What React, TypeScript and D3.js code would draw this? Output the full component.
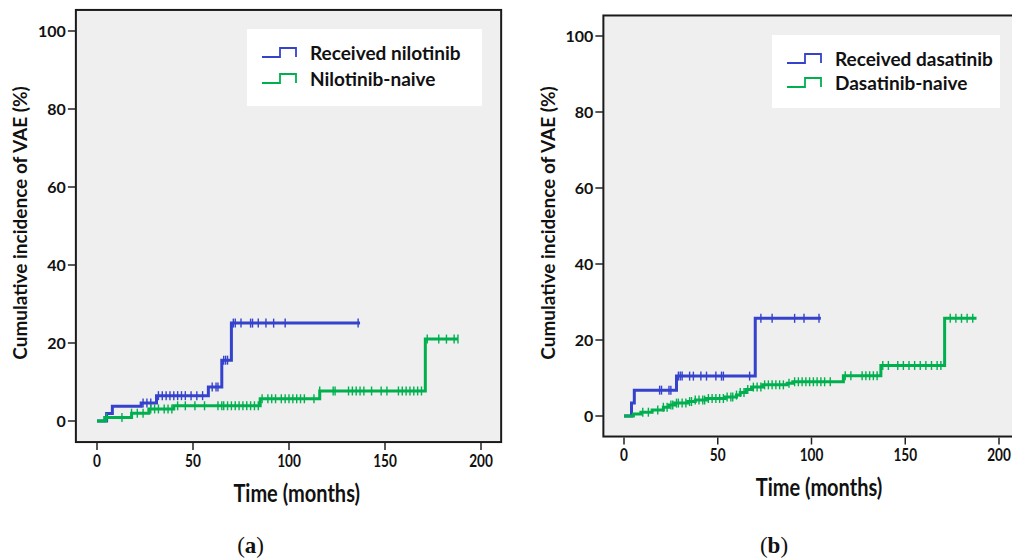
import React from 'react';
import * as d3 from 'd3';

// step points [time in months, cumulative incidence %]
const nilotinibSteps: [number, number][] = [
  [0, 0], [5, 1.9], [8, 3.8], [23, 4.6], [31, 6.5], [58, 8.7], [65, 15.6], [70, 25.1], [137, 25.1],
];
const nilotinibNaiveSteps: [number, number][] = [
  [0, 0], [4, 0.9], [18, 2.0], [27, 3.1], [40, 3.9], [85, 5.7], [116, 7.7], [171, 21.0], [188, 21.0],
];
const dasatinibSteps: [number, number][] = [
  [0, 0], [4, 3.4], [5.5, 6.8], [28, 10.5], [70, 25.7], [105, 25.7],
];
const dasatinibNaiveSteps: [number, number][] = [
  [0, 0], [5, 0.5], [9, 1.0], [15, 1.6], [21, 2.3], [24, 2.9], [27, 3.4], [34, 3.8], [38, 4.2],
  [44, 4.6], [54, 5.0], [60, 5.5], [62, 6.2], [65, 7.0], [68, 7.6], [74, 8.2], [87, 8.6],
  [90, 9.0], [117, 10.6], [137, 13.3], [171, 25.7], [188, 25.7],
];

// censored observations (months)
const nilotinibCensor = [24, 26, 28, 32, 34, 36, 38, 40, 42, 44, 46, 49, 52, 55, 60, 62, 63, 66, 67, 68, 71, 72, 75, 80, 81, 84, 88, 92, 98, 136];
const nilotinibNaiveCensor = [5, 13, 18, 21, 24, 28, 30, 32, 35, 37, 39, 42, 46, 51, 56, 63, 65, 66, 68, 70, 72, 74, 76, 78, 80, 82, 84, 86, 89,
  91, 93, 96, 98, 100, 102, 104, 106, 108, 113, 116, 123, 124, 131, 133, 135, 137, 139, 143, 148, 151, 157, 159, 161, 163, 165, 167, 169, 172, 178, 182, 186, 188];
const dasatinibCensor = [19, 20, 24, 25, 29, 30, 31, 35, 37, 41, 44, 49, 52, 53, 67, 73, 79, 91, 96, 104];
const dasatinibNaiveCensor = [10, 13, 18, 21, 23, 25, 26, 28, 29, 31, 33, 35, 36, 38, 40, 42, 43, 45, 47, 49, 51, 53, 55, 57, 58, 60, 62, 64, 66,
  69, 71, 73, 75, 77, 79, 81, 83, 85, 88, 91, 93, 95, 97, 99, 101, 103, 105, 107, 110, 118, 121, 127, 129, 131, 133, 135, 138, 141, 146, 149,
  152, 155, 158, 161, 164, 167, 169, 174, 177, 180, 183, 186];

const timeTicks = [0, 50, 100, 150, 200];
const pctTicks = [0, 20, 40, 60, 80, 100];

const BLUE = '#3442cc';
const GREEN = '#00b04f';
const sans = 'Lato, "Open Sans", sans-serif';

function valueAt(steps: [number, number][], t: number) {
  let v = 0;
  for (const [st, sv] of steps) if (st <= t) v = sv;
  return v;
}

type PanelProps = {
  x: d3.ScaleLinear<number, number>;
  y: d3.ScaleLinear<number, number>;
  series: { name: string; color: string; steps: [number, number][]; censor: number[] }[];
  legend: { x: number; y: number; w: number; h: number; rows: number[] };
  yLabelX: number;
  xTitleY: number;
  tag: string;
};

// condensed bold text, squeezed horizontally like the original's narrow font
function Narrow({ x, y, size, children }: { x: number; y: number; size: number; children: React.ReactNode }) {
  return (
    <text transform={`translate(${x},${y}) scale(0.8,1)`} dy="0.35em" textAnchor="middle" fontFamily={sans} fontWeight={700} fontSize={size} fill="#111">
      {children}
    </text>
  );
}

function Panel({ x, y, series, legend, yLabelX, xTitleY, tag }: PanelProps) {
  const left = x(-11);
  const right = x(210.5);
  const top = y(105.4);
  const bottom = y(-5.4);
  const line = d3.line<[number, number]>()
    .x(d => x(d[0]))
    .y(d => y(d[1]))
    .curve(d3.curveStepAfter);

  return (
    <g>
      <rect x={left} y={top} width={right - left} height={bottom - top} fill="#efefef" stroke="#1a1a1a" strokeWidth={2} />

      {/* legend */}
      <rect x={legend.x} y={legend.y} width={legend.w} height={legend.h} fill="#ffffff" />
      {series.map((s, i) => {
        const cy = legend.rows[i];
        const lx = legend.x + 15;
        return (
          <g key={s.name}>
            <path d={`M${lx},${cy + 4} H${lx + 18} V${cy - 5} H${lx + 34} V${cy + 4}`} fill="none" stroke={s.color} strokeWidth={1.8} />
            <text x={lx + 48} y={cy} dy="0.35em" fontFamily={sans} fontWeight={700} fontSize={19} fill="#111">{s.name}</text>
          </g>
        );
      })}

      {/* curves */}
      {series.map(s => (
        <g key={s.name + '-curve'}>
          <path d={line(s.steps) || ''} fill="none" stroke={s.color} strokeWidth={3} />
          {s.censor.map((t, j) => (
            <line key={j} x1={x(t)} x2={x(t)} y1={y(valueAt(s.steps, t)) - 4.5} y2={y(valueAt(s.steps, t)) + 4.5} stroke={s.color} strokeWidth={1.4} />
          ))}
        </g>
      ))}

      {/* y axis */}
      {pctTicks.map(p => (
        <g key={p}>
          <line x1={left - 8} x2={left} y1={y(p)} y2={y(p)} stroke="#222" strokeWidth={1.5} />
          <text x={left - 10} y={y(p)} dy="0.35em" textAnchor="end" fontFamily={sans} fontWeight={700} fontSize={16} fill="#111">{p}</text>
        </g>
      ))}
      <text transform={`translate(${yLabelX},${y(50) - 3}) rotate(-90)`} textAnchor="middle" dy="0.35em" fontFamily={sans} fontWeight={700} fontSize={19} fill="#111">
        Cumulative incidence of VAE (%)
      </text>

      {/* x axis */}
      {timeTicks.map(t => (
        <g key={t}>
          <line x1={x(t)} x2={x(t)} y1={bottom + 1} y2={bottom + 8} stroke="#222" strokeWidth={1.5} />
          <Narrow x={x(t)} y={bottom + 19} size={17}>{t}</Narrow>
        </g>
      ))}
      <Narrow x={x(104)} y={xTitleY} size={25}>Time (months)</Narrow>

      <text x={x(80)} y={545} dy="0.35em" textAnchor="middle" fontFamily='"Liberation Serif", serif' fontSize={23} fill="#111">
        (<tspan fontWeight={700}>{tag}</tspan>)
      </text>
    </g>
  );
}

export default function App() {
  const xa = d3.scaleLinear().domain([0, 200]).range([97, 481]);
  const ya = d3.scaleLinear().domain([0, 100]).range([421, 31]);
  const xb = d3.scaleLinear().domain([0, 200]).range([624, 999]);
  const yb = d3.scaleLinear().domain([0, 100]).range([416, 36]);

  return (
    <svg width={1012} height={559} style={{ position: 'absolute', left: 0, top: 0, background: '#fff' }}>
      <Panel
        x={xa}
        y={ya}
        series={[
          { name: 'Received nilotinib', color: BLUE, steps: nilotinibSteps, censor: nilotinibCensor },
          { name: 'Nilotinib-naive', color: GREEN, steps: nilotinibNaiveSteps, censor: nilotinibNaiveCensor },
        ]}
        legend={{ x: 247, y: 29, w: 235, h: 77, rows: [53, 79] }}
        yLabelX={20}
        xTitleY={493}
        tag="a"
      />
      <Panel
        x={xb}
        y={yb}
        series={[
          { name: 'Received dasatinib', color: BLUE, steps: dasatinibSteps, censor: dasatinibCensor },
          { name: 'Dasatinib-naive', color: GREEN, steps: dasatinibNaiveSteps, censor: dasatinibNaiveCensor },
        ]}
        legend={{ x: 772, y: 35, w: 228, h: 73, rows: [59, 83] }}
        yLabelX={548}
        xTitleY={487}
        tag="b"
      />
    </svg>
  );
}
